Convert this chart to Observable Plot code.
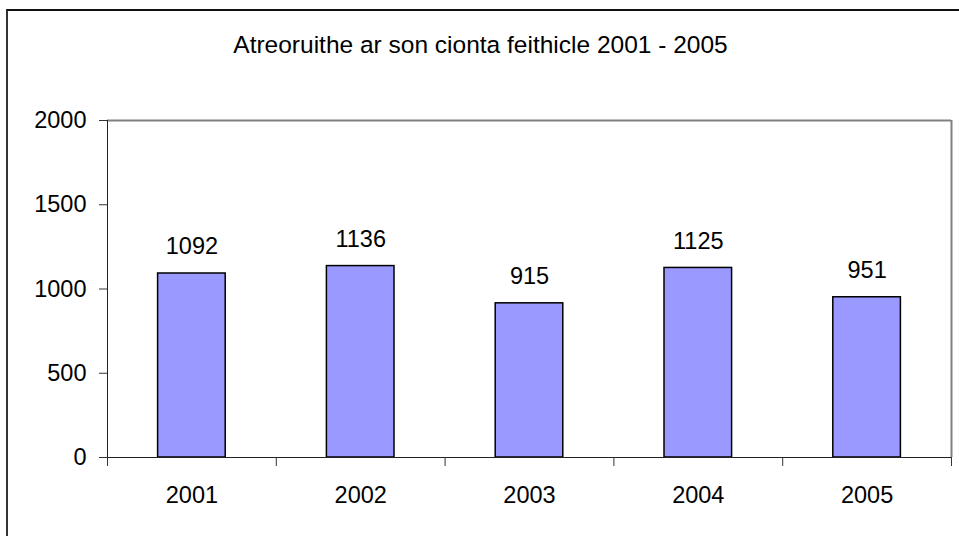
<!DOCTYPE html>
<html>
<head>
<meta charset="utf-8">
<script src="https://cdn.jsdelivr.net/npm/d3@7"></script>
<script src="https://cdn.jsdelivr.net/npm/@observablehq/plot@0.6"></script>
<style>
  html, body { margin: 0; padding: 0; background: #fff; overflow: hidden; }
  #wrap { position: relative; width: 959px; height: 536px; }
  #border { position: absolute; left: 6px; top: 9px; width: 1200px; height: 1200px;
            border-left: 2px solid #333; border-top: 2px solid #111; pointer-events: none; }
  svg { font-family: "Liberation Sans", Arial, sans-serif; }
</style>
</head>
<body>
<div id="wrap"><div id="border"></div></div>
<script>
const title = "Atreoruithe ar son cionta feithicle 2001 - 2005";
const years = ["2001", "2002", "2003", "2004", "2005"];
const counts = [1092, 1136, 915, 1125, 951];
const yTicks = [0, 500, 1000, 1500, 2000];

const data = years.map((y, i) => ({year: y, i, value: counts[i]}));

const fontSize = 23.5;
const titleSize = 24.5;
const chart = Plot.plot({
  width: 959,
  height: 536,
  marginLeft: 107,
  marginRight: 8,
  marginTop: 120,
  marginBottom: 79,
  style: {fontSize: fontSize + "px", fontFamily: "'Liberation Sans', Arial, sans-serif", color: "#000", background: "transparent"},
  x: {type: "linear", domain: [0, years.length]},
  y: {domain: [0, 2000]},
  marks: [
    Plot.rectY(data, {x1: "i", x2: d => d.i + 1, y: "value", fill: "#9999ff", stroke: "#000", strokeWidth: 1.5, insetLeft: 50.6, insetRight: 50.6}),
    Plot.ruleY([2000], {stroke: "#808080", strokeWidth: 2}),
    Plot.ruleX([years.length], {y1: 0, y2: 2000, stroke: "#808080", strokeWidth: 2}),
    Plot.ruleX([0], {y1: 0, y2: 2000, stroke: "#222", strokeWidth: 1}),
    Plot.ruleY([0], {stroke: "#222", strokeWidth: 1.2}),
    Plot.axisY({ticks: yTicks, tickSize: 8, tickPadding: 13, tickFormat: d => String(d), label: null, stroke: "#333"}),
    Plot.axisX({ticks: d3.range(years.length + 1), tickSize: 9, tickFormat: () => "", label: null, stroke: "#333"}),
    Plot.axisX({ticks: years.map((_, i) => i + 0.5), tickSize: 0, tickPadding: 29, tickFormat: v => years[Math.floor(v)], label: null}),
    Plot.text(data, {x: d => d.i + 0.5, y: "value", text: d => String(d.value), dy: -19, lineAnchor: "bottom", fontSize: fontSize}),
    Plot.text([title], {frameAnchor: "top", dx: -49, dy: -75, lineAnchor: "middle", fontSize: titleSize})
  ]
});
chart.style.position = "absolute";
chart.style.left = "0px";
chart.style.top = "0px";
document.getElementById("wrap").prepend(chart);
</script>
</body>
</html>
